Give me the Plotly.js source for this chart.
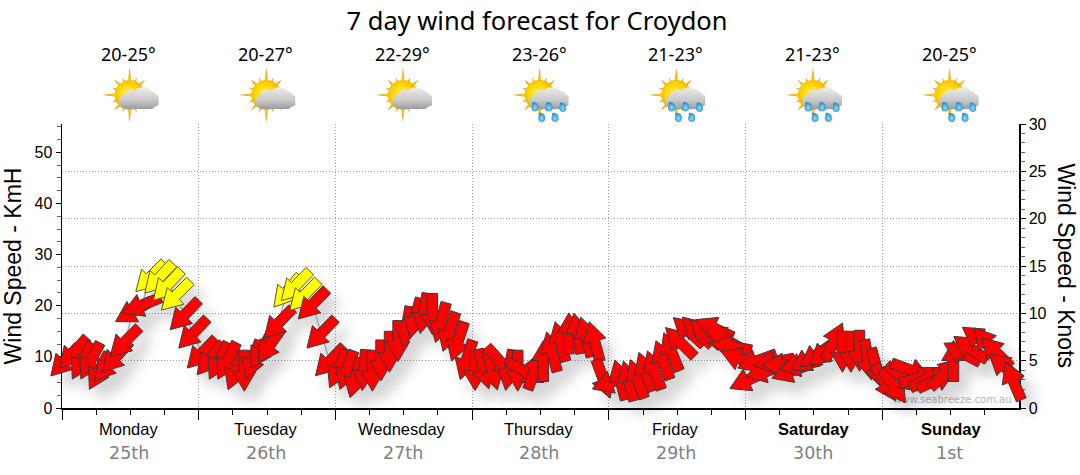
<!DOCTYPE html>
<html><head><meta charset="utf-8">
<script src="https://cdn.plot.ly/plotly-3.0.1.min.js"></script>
<style>html,body{margin:0;padding:0;background:#fff}#c{width:1080px;height:475px}</style></head>
<body><div id="c"></div>
<script>
const dayNames=["Monday","Tuesday","Wednesday","Thursday","Friday","Saturday","Sunday"];
const dayDates=["25th","26th","27th","28th","29th","30th","1st"];
const tempRanges=["20-25°","20-27°","22-29°","23-26°","21-23°","21-23°","20-25°"];
const rainyDay=[false,false,false,true,true,true,true];
const speedMon=[9.2,10.8,9.2,9.2,7.2,8.4,10,12.9,18.9,20.1,25.6,25.4,24,22,18.2,14.6];
const dirMon=[43,42,28,28,28,40,42,45,60,68,45,43,43,45,44,44];
const speedTue=[10.7,9.6,9.2,9.2,7.3,7.3,9.4,11.3,12.3,16.6,22.8,23.9,22,20.3,14.6,9.2];
const dirTue=[44,39,27,27,22,0,20,30,35,44,40,44,44,44,44,44];
const speedWed=[7.6,7.4,5.9,7.4,7.3,9.3,11,13.1,15.9,17.6,18.5,18.4,16.7,14.9,13,9.4];
const dirWed=[25,20,15,5,0,0,0,0,10,15,10,0,15,18,18,18];
const speedThu=[7.4,7.6,7.4,9,7.4,7.3,7,7.4,9.2,11,13,14.6,14.6,13.9,13,5.7];
const dirThu=[0,345,345,318,10,0,300,200,180,165,165,180,170,165,165,340];
const speedFri=[5.1,5.5,5.3,5.7,7.1,7.4,9.4,11,12.9,15,15,14.6,15.6,13.7,12,9.6];
const dirFri=[70,165,165,160,160,160,160,158,135,132,134,130,115,120,100,112];
const speedSat=[5.5,9.2,7.2,9,8.4,7.2,8.4,9.4,10.4,11,13,11,11,11.2,9.4,7.8];
const dirSat=[65,70,75,80,90,70,78,60,55,50,205,0,0,0,350,345];
const speedSun=[4.9,4.3,5.9,7.4,5.9,5.9,5.5,6.8,9.2,10.8,11.7,13.5,12.6,10.9,8,5.3];
const dirSun=[330,325,310,290,255,240,245,225,180,118,125,125,140,135,130,157];

const speeds=[].concat(speedMon,speedTue,speedWed,speedThu,speedFri,speedSat,speedSun);
const dirs=[].concat(dirMon,dirTue,dirWed,dirThu,dirFri,dirSat,dirSun);
const KMH_PER_KNOT=1.852, YELLOW_FROM=21.5;
const W=1080,H=475,L=62.4,R=61,T=124,B=67;
const pw=W-L-R, ph=H-T-B, hours=168, kmhMax=30*KMH_PER_KNOT;
const pxX=pw/hours, pxY=ph/kmhMax;
const hourOf=i=>0.5+1.5*i;

const ARROW={len:41,shaft:10.5,head:23.5,headLen:20};
function arrowPath(t,v,d){
  const r=d*Math.PI/180, ux=-Math.sin(r), uy=Math.cos(r); // screen direction of tip (y down)
  const nx=-uy, ny=ux, h=ARROW.len/2, s=ARROW.shaft/2, w=ARROW.head/2, b=h-ARROW.headLen;
  const pts=[[-h,-s],[b,-s],[b,-w],[h,0],[b,w],[b,s],[-h,s],[-h,-s]];
  return {x:pts.map(p=>t+(p[0]*ux+p[1]*nx)/pxX), y:pts.map(p=>v-(p[0]*uy+p[1]*ny)/pxY)};
}
const traces=[];
traces.push({type:'scatter',mode:'text',x:[156.3],y:[0.25],yaxis:'y',text:['www.seabreeze.com.au'],
  textposition:'top center',textfont:{family:'DejaVu Sans',size:10,color:'#b4b8bc'},hoverinfo:'skip',showlegend:false,cliponaxis:false});
traces.push({type:'scatter',mode:'lines',x:speeds.map((_,i)=>hourOf(i)),y:speeds,yaxis:'y2',
  line:{color:'#999',width:1.2,simplify:false},hoverinfo:'skip',showlegend:false,cliponaxis:false});
speeds.forEach((v,i)=>{
  const a=arrowPath(hourOf(i),v,dirs[i]), hi=v>=YELLOW_FROM;
  traces.push({type:'scatter',mode:'lines',x:a.x,y:a.y,yaxis:'y2',fill:'toself',
    fillcolor:hi?'#ffff00':'#ff0000',line:{color:hi?'#5a5a10':'#3a3a3a',width:1,simplify:false},
    hoverinfo:'skip',showlegend:false,cliponaxis:false});
});

function icon(rain){
  let sp='';
  for(let k=0;k<16;k++){
    const a=k*22.5, big=k%4===0, len=big?27.5:(k%2===0?22:19);
    const hw=big?3.6:4.2;
    sp+=`<polygon transform="rotate(${a} 27 28)" points="${27-hw},28 27,${28-len} ${27+hw},28" fill="url(#sp)"/>`;
  }
  const drops=[[22.3,38.7],[36.3,38.7],[50,39.2],[29,49.3],[42.3,49.3]];
  const dr=rain?drops.map(p=>`<path transform="translate(${p[0]} ${p[1]}) scale(1.2)" d="M-2,-3Q3,-3 3,1A3,3 0 1 1 -2.6,0.6Z" fill="url(#dp)"/>`).join(''):'';
  return 'data:image/svg+xml,'+encodeURIComponent(`<svg xmlns="http://www.w3.org/2000/svg" width="112" height="112" viewBox="0 0 56 56">
<defs><radialGradient id="sun" cx=".45" cy=".45" r=".6"><stop offset="0" stop-color="#fff060"/><stop offset=".55" stop-color="#ffd400"/><stop offset="1" stop-color="#f0a000"/></radialGradient>
<linearGradient id="sp" x1="0" y1="0" x2="0" y2="1"><stop offset="0" stop-color="#d89020"/><stop offset=".45" stop-color="#fcc820"/><stop offset="1" stop-color="#ffd800"/></linearGradient>
<linearGradient id="cl" x1="0" y1="0" x2="0" y2="1"><stop offset="0" stop-color="#ececec"/><stop offset=".6" stop-color="#c8c8c8"/><stop offset="1" stop-color="#9c9c9c"/></linearGradient>
<radialGradient id="dp" cx=".5" cy=".6" r=".6"><stop offset="0" stop-color="#90dcf8"/><stop offset="1" stop-color="#1c88c8"/></radialGradient></defs>
${sp}<circle cx="27" cy="28" r="15" fill="url(#sun)"/>
<path transform="translate(1.5 0) scale(1.06 1)" d="M21,42 A7.5,7.5 0 0 1 19,27.5 A7.5,7.5 0 0 1 29,23.5 A10,10 0 0 1 44,24 A6.5,6.5 0 0 1 49,28 A5.5,5.5 0 0 1 50.5,38.5 Q49,40 47.5,39.5 Q47,42 44,42 Z" fill="url(#cl)"/>
${dr}</svg>`);
}
const iconW=56,iconH=56;
const images=dayNames.map((_,d)=>({source:icon(rainyDay[d]),xref:'paper',yref:'paper',layer:'above',
  x:(103+136.6*d-L)/pw,y:(H-B-67)/ph,sizex:iconW/pw,sizey:iconH/ph,xanchor:'left',yanchor:'top',sizing:'stretch'}));

const ann=[];
dayNames.forEach((n,d)=>{
  const c=12+24*d, bold=d>=5;
  ann.push({xref:'x',yref:'paper',x:bold?c:c-0.28,y:(H-B-429)/ph,text:bold?'<b>'+n+'</b>':n,showarrow:false,xanchor:'center',yanchor:'middle',
    font:{family:'Liberation Sans',size:16.5,color:'#000'}});
  ann.push({xref:'x',yref:'paper',x:c-0.2,y:(H-B-452.5)/ph,text:dayDates[d],showarrow:false,xanchor:'center',yanchor:'middle',
    font:{family:'DejaVu Sans',size:17.5,color:'#808080'}});
  ann.push({xref:'x',yref:'paper',x:c-0.25,y:(H-B-54)/ph,text:tempRanges[d],showarrow:false,xanchor:'center',yanchor:'middle',
    font:{family:'Noto Sans',size:18,color:'#000'}});
});
ann.push({xref:'paper',yref:'paper',x:(1066-L)/pw,y:(H-B-265.5)/ph,text:'Wind Speed - Knots',textangle:90,showarrow:false,xanchor:'center',yanchor:'middle',
  font:{family:'Liberation Sans',size:23,color:'#000'}});
const axFont={family:'Liberation Sans',size:16,color:'#000'};
const dotted='1px,2px';
const layout={width:W,height:H,paper_bgcolor:'#fff',plot_bgcolor:'#fff',showlegend:false,
  margin:{l:L,r:R,t:T,b:B,pad:0},
  title:{text:'7 day wind forecast for Croydon',x:537/W,xanchor:'center',y:1-21/H,yanchor:'middle',font:{family:'Noto Sans',size:25.5,color:'#000'}},
  xaxis:{range:[0,hours],tickvals:[0,24,48,72,96,120,144],ticktext:['','','','','','',''],ticks:'outside',ticklen:10,tickwidth:1,tickcolor:'#000',
    minor:{tickvals:[6,12,18,30,36,42,54,60,66,78,84,90,102,108,114,126,132,138,150,156,162],ticks:'outside',ticklen:5,tickwidth:1,tickcolor:'#000',showgrid:false},
    showline:true,linecolor:'#000',linewidth:1.5,showgrid:true,gridcolor:'#a0a0a0',gridwidth:1,griddash:dotted,zeroline:false,fixedrange:true,layer:'below traces'},
  yaxis:{side:'right',range:[0,30],dtick:5,tick0:0,ticks:'outside',ticklen:5,tickwidth:1,tickcolor:'#000',tickfont:axFont,
    minor:{dtick:1,ticks:'outside',ticklen:4,tickwidth:1,tickcolor:'#666',showgrid:false},
    showline:true,linecolor:'#000',linewidth:1.5,showgrid:true,gridcolor:'#a0a0a0',griddash:dotted,zeroline:false,anchor:'x',fixedrange:true,layer:'below traces'},
  yaxis2:{side:'left',overlaying:'y',range:[0,kmhMax],dtick:10,tick0:0,ticks:'outside',ticklen:5,tickwidth:1,tickcolor:'#000',tickfont:axFont,
    minor:{dtick:2.5,ticks:'outside',ticklen:4,tickwidth:1,tickcolor:'#666',showgrid:false},
    showline:true,linecolor:'#000',linewidth:1.5,showgrid:false,zeroline:false,anchor:'x',fixedrange:true,layer:'below traces',
    title:{text:'Wind Speed - KmH',font:{family:'Liberation Sans',size:23,color:'#000'},standoff:15}},
  annotations:ann,images:images};
Plotly.newPlot('c',traces,layout,{displayModeBar:false,responsive:false,staticPlot:true}).then(()=>{
  // arrows overrun the axes in the original: lift the overlay's clip and add the soft drop shadow
  document.querySelectorAll('.cartesianlayer [clip-path]').forEach(e=>{
    if(!e.closest('.gridlayer')) e.removeAttribute('clip-path');
  });
  const ls=document.querySelectorAll('.scatterlayer');
  const last=ls[ls.length-1];
  if(last) last.style.filter='drop-shadow(10px 12px 6px rgba(0,0,0,0.16))';
});
</script></body></html>
